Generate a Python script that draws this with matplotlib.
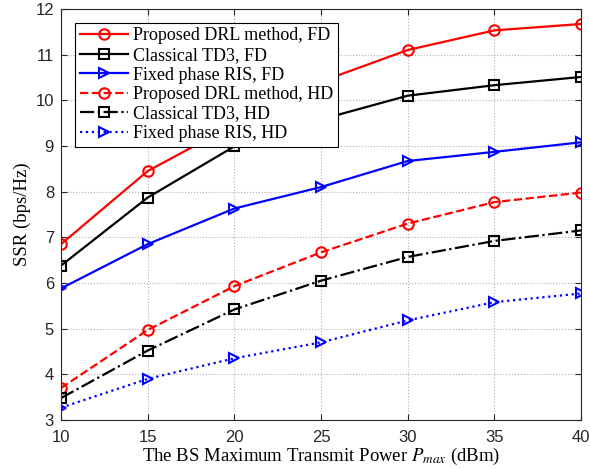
import matplotlib
matplotlib.use('Agg')
import matplotlib.pyplot as plt

# transmit power (dBm) and sum secrecy rate for each scheme
power_dbm = [10, 15, 20, 25, 30, 35, 40]
drl_fd = [6.85, 8.45, 9.47, 10.41, 11.10, 11.53, 11.67]
td3_fd = [6.38, 7.87, 8.99, 9.58, 10.10, 10.33, 10.51]
fixed_fd = [5.88, 6.85, 7.63, 8.10, 8.67, 8.87, 9.08]
drl_hd = [3.70, 4.97, 5.93, 6.67, 7.30, 7.77, 7.98]
td3_hd = [3.48, 4.52, 5.42, 6.05, 6.57, 6.92, 7.15]
fixed_hd = [3.27, 3.90, 4.35, 4.70, 5.18, 5.58, 5.77]

labels = ['Proposed DRL method, FD', 'Classical TD3, FD', 'Fixed phase RIS, FD',
          'Proposed DRL method, HD', 'Classical TD3, HD', 'Fixed phase RIS, HD']

plt.rcParams['mathtext.fontset'] = 'stix'

fig = plt.figure(figsize=(5.9, 4.69), dpi=100)
ax = fig.add_axes([0.1034, 0.1045, 0.8814, 0.8765])

mk = dict(markersize=7.5, markerfacecolor='none', markeredgewidth=1.5, linewidth=1.6)
ax.plot(power_dbm, drl_fd, '-', color='red', marker='o', label=labels[0], **mk)
ax.plot(power_dbm, td3_fd, '-', color='black', marker='s', label=labels[1], **mk)
ax.plot(power_dbm, fixed_fd, '-', color='blue', marker='>', label=labels[2], **mk)
ax.plot(power_dbm, drl_hd, '--', color='red', marker='o', label=labels[3], **mk)
ax.plot(power_dbm, td3_hd, '-.', color='black', marker='s', label=labels[4], **mk)
ax.plot(power_dbm, fixed_hd, ':', color='blue', marker='>', label=labels[5], **mk)

ax.set_xlim(10, 40)
ax.set_ylim(3, 12)
ax.set_xticks(power_dbm)
ax.set_yticks(range(3, 13))
ax.grid(True, linestyle=':', color='#b0b0b0', linewidth=0.8)
ax.tick_params(direction='in', labelsize=12, top=True, right=True, length=4,
               colors='#262626', labelcolor='#262626')
ax.tick_params(axis='x', pad=7)
ax.tick_params(axis='y', pad=5)
for lab in ax.get_xticklabels() + ax.get_yticklabels():
    lab.set_fontfamily('Liberation Sans')
for s in ax.spines.values():
    s.set_linewidth(0.8)
    s.set_color('#262626')

ax.set_xlabel(r'The BS Maximum Transmit Power $P_{max}$ (dBm)',
              fontfamily='Liberation Serif', fontsize=13.5, labelpad=1)
ax.set_ylabel('SSR (bps/Hz)', fontfamily='Liberation Serif', fontsize=13.5, labelpad=3)

leg = ax.legend(loc='upper left', bbox_to_anchor=(0.008, 0.99),
                prop={'family': 'Liberation Serif', 'size': 13},
                fancybox=False, edgecolor='black', framealpha=1, handlelength=2.7,
                borderaxespad=0.55, labelspacing=0.14, borderpad=0.25, handletextpad=0.25)
leg.get_frame().set_linewidth(0.8)

fig.savefig('out.png', dpi=100)
